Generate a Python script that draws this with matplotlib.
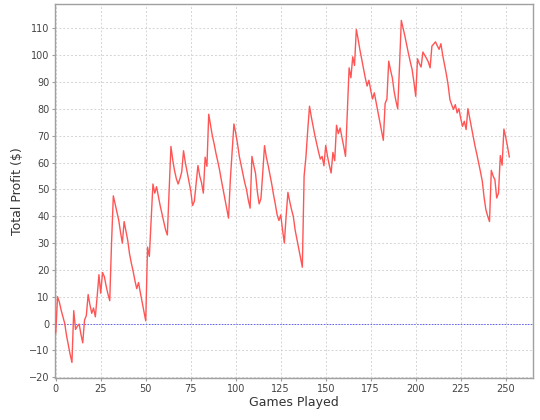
import matplotlib
matplotlib.use("Agg")
import matplotlib.pyplot as plt

profit = [
    -3.5, 10, 8, 5, 2.5, 0, -4.5, -8, -11.5, -14.5,
    4.8, -2.2, -1, -0.2, -4, -7.2, 1.3, 3, 10.8, 7,
    3.8, 5.8, 2.5, 10, 18.2, 11.3, 19, 17.5, 14, 11,
    8.5, 30, 47.6, 44.5, 41.5, 38.5, 34, 30, 38, 34.5,
    31, 26, 22.5, 19.5, 16, 13, 15.3, 11.5, 8, 4.5,
    1, 28.5, 25, 38.5, 52, 48.6, 51, 47.5, 44, 41,
    38, 35, 33, 50, 66, 61, 57, 54, 52, 54,
    56.5, 64.4, 60, 56.5, 53, 49.5, 44, 45.5, 52, 58.9,
    55, 52.5, 48.6, 62, 58.6, 78, 74, 70, 67, 63.5,
    60.5, 57.3, 53.5, 50, 46.5, 43, 39.3, 53.6, 64, 74.4,
    71, 67, 62.3, 59, 55.5, 52.5, 49.9, 46, 43, 62.3,
    59, 56, 49.2, 44.6, 46.5, 56, 66.3, 62, 59, 55.5,
    52, 48, 44.5, 40.5, 38.4, 40.5, 35, 30, 40, 48.9,
    45.5, 42.5, 39.9, 34.9, 31.5, 28, 24.5, 21, 55, 62,
    72, 81, 77, 73.5, 70, 67, 64, 61.3, 62.3, 58.8,
    66.4, 62.3, 59, 56.1, 63.8, 60.7, 73.9, 70.8, 72.9, 69.5,
    66, 62.3, 79, 95.3, 91.6, 99.4, 96.2, 109.6, 106, 102,
    98.5, 95, 91.5, 88.5, 90.7, 87, 83.7, 86, 82.5, 79,
    75.5, 72, 68.3, 82, 83.7, 97.8, 94.5, 91.6, 86.6, 83,
    80, 96, 113, 110, 107.1, 103.8, 100.5, 97.5, 94.7, 90,
    84.7, 98.7, 96.9, 95.6, 101.2, 100, 98.8, 97.5, 95.3, 103.4,
    104.2, 105, 103.5, 102.2, 104.3, 100, 96.5, 93, 89, 83.5,
    81.5, 79.8, 81.6, 78.5, 80.1, 76.5, 73.5, 75.4, 72.3, 80.1,
    76.5, 73, 69.5, 66, 63, 59.8, 56.5, 53, 47, 42.4,
    40, 38, 57.1, 55, 53.6, 46.8, 48.6, 62.6, 59, 72.5,
    69.5, 66, 62.1,
]
games = list(range(len(profit)))

x_ticks = list(range(0, 251, 25))
y_ticks = list(range(-20, 111, 10))

fig = plt.figure(figsize=(5.4, 4.2), dpi=100)
ax = fig.add_axes([55.2 / 540, 1 - 378 / 420, (532.7 - 55.2) / 540, (378 - 4) / 420])

ax.set_xlim(-0.3, 265)
ax.set_ylim(-20.3, 119.1)
ax.set_xticks(x_ticks)
ax.set_yticks(y_ticks)

ax.grid(True, color="#d4d4d4", linestyle=(0, (2, 2)), linewidth=0.7)
ax.set_axisbelow(True)

ax.axhline(0, color="#6060ff", linestyle=(0, (1.5, 1.5)), linewidth=0.7)
ax.plot(games, profit, color="#ff5555", linewidth=1.0, zorder=3)

for s in ax.spines.values():
    s.set_color("#a0a0a0")
    s.set_linewidth(1.0)
ax.tick_params(axis="both", direction="out", length=2, width=0.8, color="#a0a0a0",
               labelsize=7, pad=2, labelcolor="#444444")

ax.set_xlabel("Games Played", fontsize=9, color="#333333", labelpad=2)
ax.set_ylabel("Total Profit ($)", fontsize=9, color="#333333", labelpad=4)

fig.savefig("out.png", dpi=100)
